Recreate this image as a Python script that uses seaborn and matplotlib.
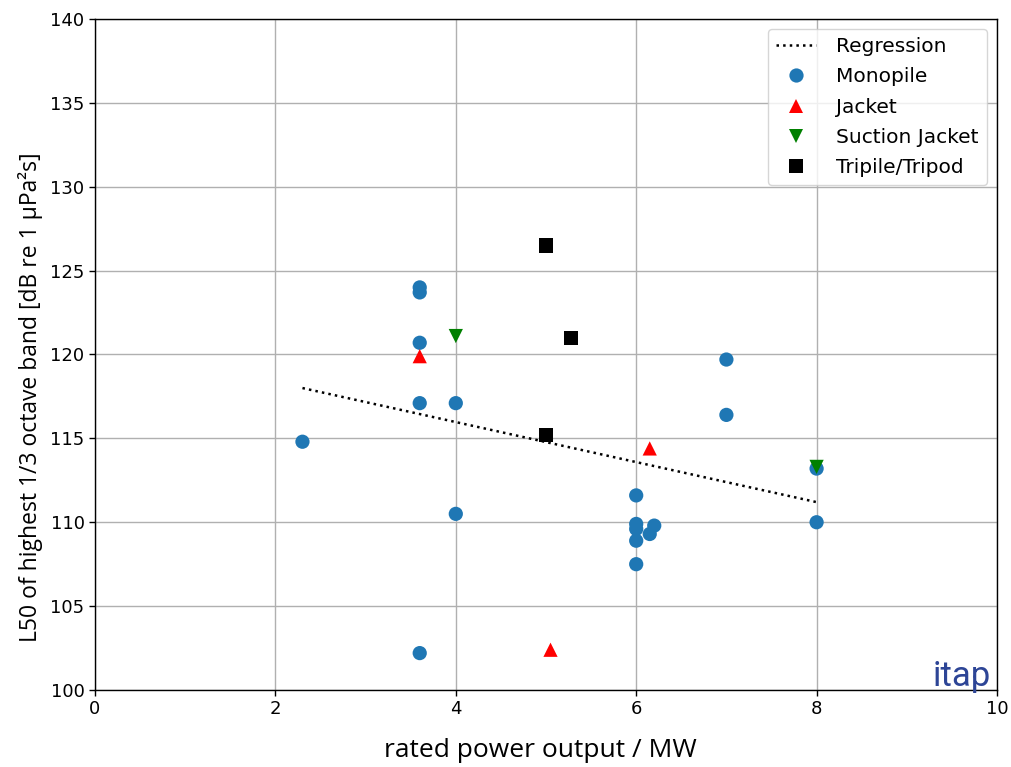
import numpy as np
import pandas as pd
import matplotlib
matplotlib.use("Agg")
import matplotlib.pyplot as plt
import seaborn as sns

sns.set_theme(style="whitegrid")
plt.rcParams['font.family'] = ['DejaVu Sans']
plt.rcParams['text.color'] = 'black'
plt.rcParams['axes.labelcolor'] = 'black'
plt.rcParams['xtick.color'] = 'black'
plt.rcParams['ytick.color'] = 'black'

# data
monopile_x = [2.3, 3.6, 3.6, 3.6, 3.6, 3.6, 4.0, 4.0, 6.0, 6.0, 6.0, 6.0, 6.0, 6.2, 6.15, 7.0, 7.0, 8.0, 8.0]
monopile_y = [114.8, 124.0, 123.7, 120.7, 117.1, 102.2, 117.1, 110.5, 111.6, 109.9, 109.6, 108.9, 107.5, 109.8, 109.3, 119.7, 116.4, 113.2, 110.0]
jacket_x = [3.6, 6.15, 5.05]
jacket_y = [119.9, 114.4, 102.4]
suction_x = [4.0, 8.0]
suction_y = [121.1, 113.3]
tripod_x = [5.0, 5.28, 5.0]
tripod_y = [126.5, 121.0, 115.2]
regression_x = [2.3, 8.0]
regression_y = [118.0, 111.2]

categories = ["Monopile", "Jacket", "Suction Jacket", "Tripile/Tripod"]
df = pd.concat([
    pd.DataFrame({"power": monopile_x, "level": monopile_y, "type": "Monopile"}),
    pd.DataFrame({"power": jacket_x, "level": jacket_y, "type": "Jacket"}),
    pd.DataFrame({"power": suction_x, "level": suction_y, "type": "Suction Jacket"}),
    pd.DataFrame({"power": tripod_x, "level": tripod_y, "type": "Tripile/Tripod"}),
], ignore_index=True)

palette = {"Monopile": "#1f77b4", "Jacket": "red", "Suction Jacket": "green", "Tripile/Tripod": "black"}
markers = {"Monopile": "o", "Jacket": "^", "Suction Jacket": "v", "Tripile/Tripod": "s"}

fig = plt.figure(figsize=(10.11, 7.67), dpi=100)
ax = fig.add_axes([95 / 1011, 1 - 690 / 767, (997 - 95) / 1011, (690 - 19) / 767])

ax.plot(regression_x, regression_y, ":", color="black", lw=1.8, label="Regression", zorder=3)
sns.scatterplot(data=df, x="power", y="level", hue="type", style="type",
                hue_order=categories, style_order=categories,
                palette=palette, markers=markers, s=105, linewidth=0, ax=ax, zorder=4)

ax.set_xlim(0, 10)
ax.set_ylim(100, 140)
ax.set_xticks(range(0, 11, 2))
ax.set_yticks(range(100, 141, 5))
ax.tick_params(labelsize=13, length=4, width=1, color="black", left=True, bottom=True)
ax.grid(True, color="#b0b0b0", lw=1)
ax.set_facecolor("white")
for sp in ax.spines.values():
    sp.set_color("black")
    sp.set_linewidth(1)

ax.set_xlabel("rated power output / MW", fontsize=19, family=["Open Sans", "DejaVu Sans"])
ax.set_ylabel("L50 of highest 1/3 octave band [dB re 1 μPa²s]", fontsize=16.5,
              family=["Open Sans", "DejaVu Sans"])
ax.xaxis.set_label_coords(0.494, -0.072)
ax.yaxis.set_label_coords(-0.058, 0.437)

handles, labels = ax.get_legend_handles_labels()
order = [labels.index(l) for l in ["Regression"] + categories]
ax.legend([handles[i] for i in order], [labels[i] for i in order], loc="upper right",
          fontsize=14.5, frameon=True, framealpha=0.8, edgecolor="#cccccc", markerscale=1.0,
          borderaxespad=0.5, handlelength=2.0, labelspacing=0.56, handletextpad=1.0)

ax.text(0.993, 0.006, "itap", transform=ax.transAxes, ha="right", va="baseline",
        fontsize=25, color="#2d4596", family=["Roboto", "DejaVu Sans"])

fig.savefig("out.png", dpi=100)
